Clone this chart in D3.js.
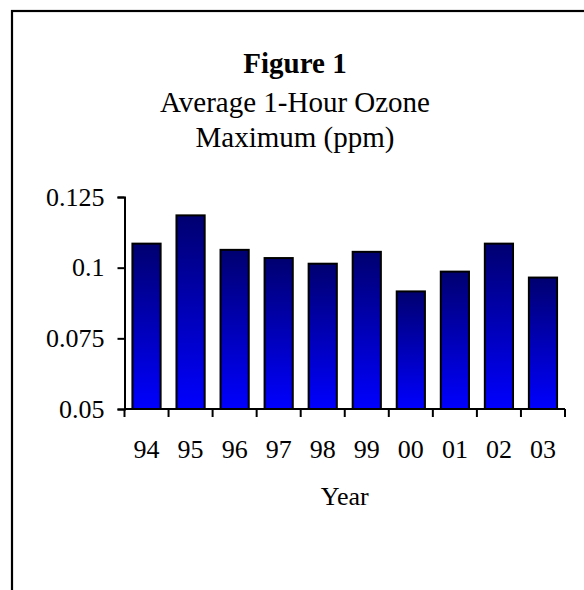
<!DOCTYPE html>
<html>
<head>
<meta charset="utf-8">
<script src="https://cdn.jsdelivr.net/npm/d3@7"></script>
<style>
  html, body { margin: 0; padding: 0; background: #fff; overflow: hidden; }
  svg { display: block; }
  text { font-family: "Liberation Serif", "Times New Roman", serif; fill: #000; }
</style>
</head>
<body>
<svg id="chart" width="584" height="590"></svg>
<script>
const years = ["94", "95", "96", "97", "98", "99", "00", "01", "02", "03"];
const ozone = [0.1085, 0.1185, 0.1063, 0.1034, 0.1014, 0.1056, 0.0916, 0.0986, 0.1085, 0.0965];
const yTicks = [0.05, 0.075, 0.1, 0.125];
const yTickLabels = ["0.05", "0.075", "0.1", "0.125"];
const titleBold = "Figure 1";
const titleLines = ["Average 1-Hour Ozone", "Maximum (ppm)"];
const xTitle = "Year";

const svg = d3.select("#chart");

// chart area frame (extends past right/bottom of the window)
svg.append("rect")
  .attr("x", 12).attr("y", 11)
  .attr("width", 620).attr("height", 620)
  .attr("fill", "#fff").attr("stroke", "#000").attr("stroke-width", 2.2);

const defs = svg.append("defs");
const grad = defs.append("linearGradient")
  .attr("id", "barGrad").attr("x1", 0).attr("y1", 0).attr("x2", 0).attr("y2", 1);
grad.append("stop").attr("offset", "0%").attr("stop-color", "#000070");
grad.append("stop").attr("offset", "100%").attr("stop-color", "#0000ff");

const plot = { left: 124.5, right: 565, top: 197, bottom: 409 };

const x = d3.scaleBand().domain(years)
  .range([plot.left, plot.right]).paddingInner(0.36).paddingOuter(0.18);
const y = d3.scaleLinear().domain([0.05, 0.125]).range([plot.bottom, plot.top]);

// bars
svg.append("g").selectAll("rect")
  .data(years.map((yr, i) => ({ yr, v: ozone[i] })))
  .join("rect")
  .attr("x", d => x(d.yr))
  .attr("y", d => y(d.v))
  .attr("width", x.bandwidth())
  .attr("height", d => y(0.05) - y(d.v))
  .attr("fill", "url(#barGrad)")
  .attr("stroke", "#000").attr("stroke-width", 2);

// y axis
const yAxis = d3.axisLeft(y).tickValues(yTicks)
  .tickFormat((d, i) => yTickLabels[i]).tickSize(7).tickPadding(13);
const gy = svg.append("g").attr("transform", `translate(${plot.left},0)`).call(yAxis);
gy.select(".domain").attr("stroke-width", 2);
gy.selectAll(".tick line").attr("stroke-width", 2);
gy.selectAll(".tick text").style("font-size", "26px")
  .style("font-family", "'Liberation Serif', 'Times New Roman', serif");

// x axis: ticks at band boundaries
const boundaries = d3.range(years.length + 1).map(i => plot.left + i * (plot.right - plot.left) / years.length);
const gx = svg.append("g");
gx.append("line")
  .attr("x1", plot.left).attr("x2", plot.right)
  .attr("y1", plot.bottom).attr("y2", plot.bottom)
  .attr("stroke", "#000").attr("stroke-width", 2);
gx.selectAll("line.tk").data(boundaries).join("line").attr("class", "tk")
  .attr("x1", d => d).attr("x2", d => d)
  .attr("y1", plot.bottom).attr("y2", plot.bottom + 8)
  .attr("stroke", "#000").attr("stroke-width", 2);
gx.selectAll("text").data(years).join("text")
  .attr("x", d => x(d) + x.bandwidth() / 2)
  .attr("y", 458)
  .attr("text-anchor", "middle")
  .style("font-size", "26px")
  .text(d => d);

// axis title
svg.append("text")
  .attr("x", (plot.left + plot.right) / 2).attr("y", 505)
  .attr("text-anchor", "middle").style("font-size", "26px")
  .text(xTitle);

// chart title
const cx = 295;
svg.append("text")
  .attr("x", cx).attr("y", 73)
  .attr("text-anchor", "middle").style("font-size", "29px").style("font-weight", "bold")
  .text(titleBold);
titleLines.forEach((t, i) => {
  svg.append("text")
    .attr("x", cx).attr("y", 112 + i * 35)
    .attr("text-anchor", "middle").style("font-size", "29px")
    .text(t);
});
</script>
</body>
</html>
